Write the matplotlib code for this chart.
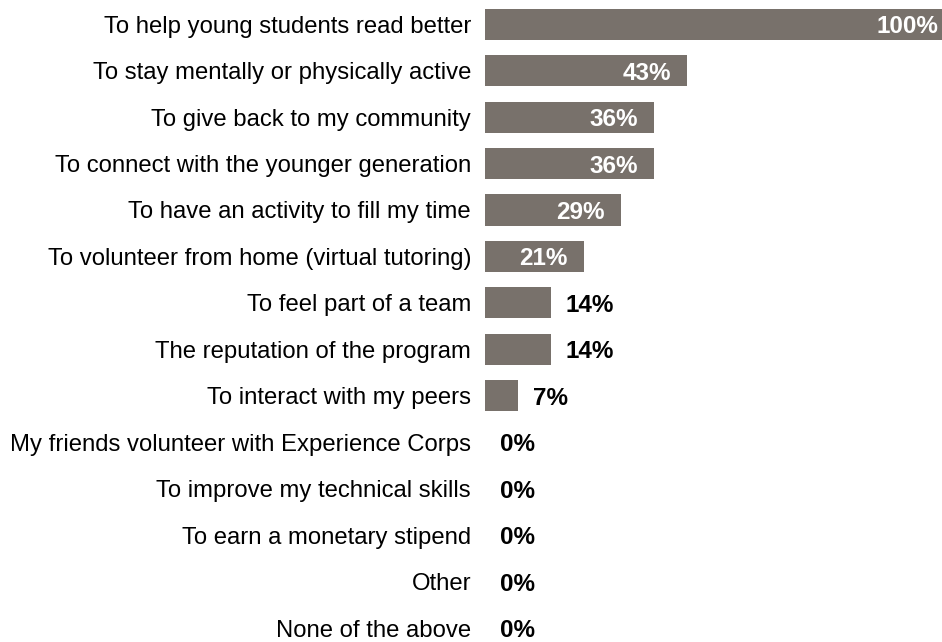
import matplotlib.pyplot as plt

reasons = [
    "To help young students read better",
    "To stay mentally or physically active",
    "To give back to my community",
    "To connect with the younger generation",
    "To have an activity to fill my time",
    "To volunteer from home (virtual tutoring)",
    "To feel part of a team",
    "The reputation of the program",
    "To interact with my peers",
    "My friends volunteer with Experience Corps",
    "To improve my technical skills",
    "To earn a monetary stipend",
    "Other",
    "None of the above",
]
percent = [100, 43, 36, 36, 29, 21, 14, 14, 7, 0, 0, 0, 0, 0]

bar_color = "#78716b"

plt.rcParams['font.family'] = ['Liberation Sans', 'DejaVu Sans']

fig = plt.figure(figsize=(9.42, 6.42), dpi=100)
ax = fig.add_axes([485 / 942, 0, 1 - 485 / 942, 1])

pos = list(range(len(reasons)))
ax.barh(pos, percent, height=0.67, color=bar_color)

# the 100% bar runs past the right edge of the figure
ax.set_xlim(0, 97.4)
ax.set_ylim(13.3, -0.52)
ax.set_yticks(pos)
ax.set_yticklabels(reasons, fontsize=17.2)
ax.tick_params(axis='y', length=0, pad=10)
ax.set_xticks([])
for s in ax.spines.values():
    s.set_visible(False)

for i, v in enumerate(percent):
    txt = f"{v}%"
    if v >= 20:
        ax.annotate(txt, (v, i), xytext=(-11.5, 0), textcoords='offset points',
                    ha='right', va='center_baseline', color='white',
                    fontsize=17.5, fontweight='bold', annotation_clip=False)
    else:
        ax.annotate(txt, (v, i), xytext=(11, 0), textcoords='offset points',
                    ha='left', va='center_baseline', color='black',
                    fontsize=17.5, fontweight='bold', annotation_clip=False)

fig.savefig("out.png", dpi=100)
